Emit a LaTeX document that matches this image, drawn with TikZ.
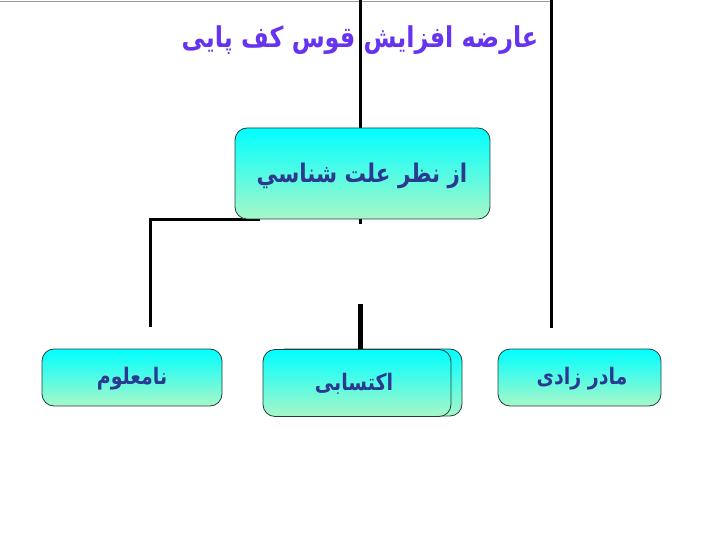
\documentclass[tikz,border=0pt]{standalone}
\usepackage{fontspec}
\TeXXeTstate=1
\newfontfamily\arabicfont[Script=Arabic]{DejaVu Sans}
\definecolor{txtblue}{HTML}{2B3990}
\definecolor{titlepurple}{HTML}{6633EE}
\definecolor{boxtop}{HTML}{00FFFF}
\definecolor{boxbot}{HTML}{A8F7C8}
\definecolor{boxedge}{HTML}{1F3F3F}
\definecolor{thingray}{HTML}{9A9A9A}
\newcommand{\tallR}[1]{\scalebox{1}[1.2]{\beginR #1\endR}}
\begin{document}
\begin{tikzpicture}[x=1pt,y=-1pt,
  box/.style={draw=boxedge, line width=0.8pt, rounded corners=12pt, top color=boxtop, bottom color=boxbot, inner sep=0pt, minimum height=57pt},
  conn/.style={line width=3pt},
  thickconn/.style={line width=5pt},
  lbl/.style={text=txtblue, font=\arabicfont\bfseries\fontsize{19}{21}\selectfont},
  toplbl/.style={text=txtblue, font=\arabicfont\bfseries\fontsize{21.4}{24}\selectfont},
  titlelbl/.style={text=titlepurple, font=\arabicfont\bfseries\fontsize{23.9}{26}\selectfont}]
\useasboundingbox (0,0) rectangle (720,540);
% coordinates
\coordinate (g0) at (0,1);
\coordinate (g1) at (553,1);
\coordinate (v0) at (360,0);
\coordinate (r0) at (551,0);
\coordinate (r1) at (551,328);
\coordinate (h0) at (150,220);
\coordinate (h1) at (260,220);
\coordinate (l1) at (150,327);
\coordinate (s0) at (360,219);
\coordinate (s1) at (360,224);
\coordinate (m0) at (360,304);
% connectors
\draw[thingray, line width=0.8pt] (g0) -- (g1);
\draw[conn] (r0) -- (r1);
\draw[conn] (h1) -- (h0) -- (l1);
\draw[conn] (s0) -- (s1);
% boxes
\node[box, minimum width=255pt, minimum height=91pt] (top) at (362.5,173.5) {};
\draw[conn] (v0) -- (v0 |- top.north);
\node[box, minimum width=180pt] (left) at (132,377.5) {};
\node[box, minimum width=189pt, minimum height=67pt] (midback) at (367.5,382.5) {};
\node[box, minimum width=188pt, minimum height=67pt] (mid) at (357,383) {};
\node[box, minimum width=163pt] (right) at (579.5,377.5) {};
\draw[thickconn] (m0) -- (m0 |- mid.north);
% labels
\node[titlelbl] (title) at (360,40) {\tallR{عارضه افزایش قوس کف پایی}};
\node[toplbl] (toptxt) at (362,176) {\tallR{از نظر علت شناسي}};
\node[lbl] (lefttxt) at (132,379) {\tallR{نامعلوم}};
\node[lbl] (midtxt) at (354,384) {\tallR{اكتسابى}};
\node[lbl] (righttxt) at (582,379) {\tallR{مادر زادی}};
\end{tikzpicture}
\end{document}
